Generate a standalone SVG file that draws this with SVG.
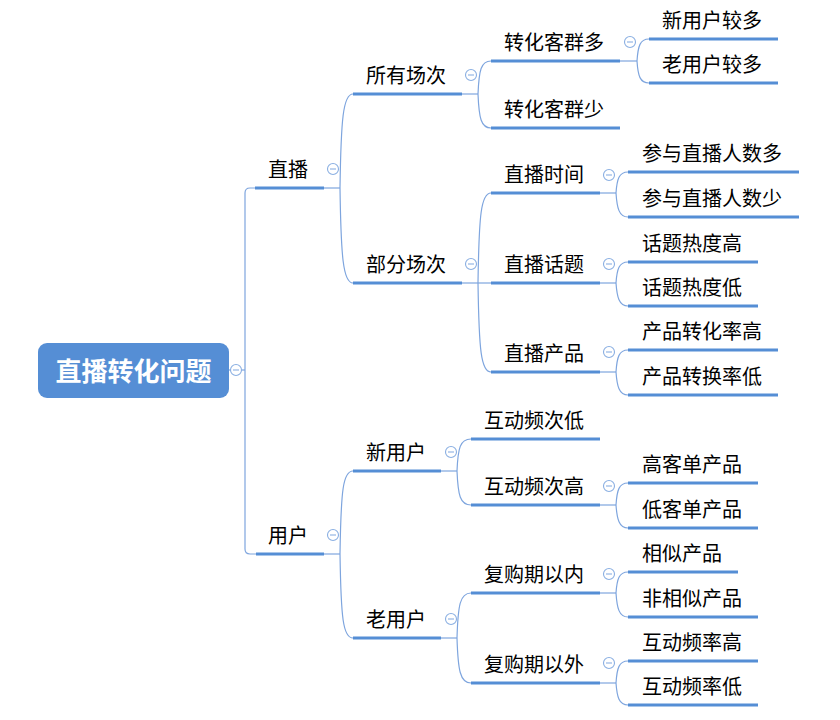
<svg xmlns="http://www.w3.org/2000/svg" width="840" height="720" viewBox="0 0 840 720">
<style>
.bg{fill:#ffffff}
.t{font-family:"Noto Sans CJK SC","Microsoft YaHei",sans-serif;font-size:20px;fill:#000000}
.root-box{fill:#558ED5}
.root-t{font-family:"Noto Sans CJK SC","Microsoft YaHei",sans-serif;font-size:26px;font-weight:bold;fill:#ffffff}
.ul{stroke:#558ED5;stroke-width:3.2;fill:none}
.ln{stroke:#7EA5DE;stroke-width:1.2;fill:none}
.cc{fill:#ffffff;stroke:#8AAFE2;stroke-width:1.1}
.cm{stroke:#8AAFE2;stroke-width:1.1}
</style>
<defs>
<g id="collapse"><circle class="cc" cx="0" cy="0" r="5.5"/><line class="cm" x1="-3" y1="0" x2="3" y2="0"/></g>
</defs>
<rect class="bg" x="0" y="0" width="840" height="720"/>

<g id="connectors">
<path class="ln" d="M229 370 H245"/>
<path class="ln" d="M255 188 H250 Q245 188 245 193 V549 Q245 554 250 554 H256"/>
<path class="ln" d="M324 188 H340"/>
<path class="ln" d="M340 188 C341 120 343 94 353 94"/>
<path class="ln" d="M340 188 C341 256 343 283 353 283"/>
<path class="ln" d="M324 554 H340"/>
<path class="ln" d="M340 554 C341 490 343 471 353 471"/>
<path class="ln" d="M340 554 C341 618 343 638 353 638"/>
<path class="ln" d="M462 94 H478"/>
<path class="ln" d="M478 94 C479 70 481 61 491 61"/>
<path class="ln" d="M478 94 C479 118 481 128 491 128"/>
<path class="ln" d="M462 283 H491"/>
<path class="ln" d="M478 283 C479 215 481 193 491 193"/>
<path class="ln" d="M478 283 C479 350 481 372 491 372"/>
<path class="ln" d="M441 471 H457"/>
<path class="ln" d="M457 471 C458 448 460 439 471 439"/>
<path class="ln" d="M457 471 C458 495 460 505 471 505"/>
<path class="ln" d="M441 638 H457"/>
<path class="ln" d="M457 638 C458 605 460 593 471 593"/>
<path class="ln" d="M457 638 C458 670 460 683 471 683"/>
<path class="ln" d="M620 61 H637"/>
<path class="ln" d="M637 61 C638 46 640 39 649 39"/>
<path class="ln" d="M637 61 C638 76 640 83 649 83"/>
<path class="ln" d="M600 193 H616"/>
<path class="ln" d="M616 193 C617 179 619 172 628 172"/>
<path class="ln" d="M616 193 C617 208 619 217 628 217"/>
<path class="ln" d="M600 283 H616"/>
<path class="ln" d="M616 283 C617 269 619 262 628 262"/>
<path class="ln" d="M616 283 C617 297 619 306 628 306"/>
<path class="ln" d="M600 372 H616"/>
<path class="ln" d="M616 372 C617 357 619 350 628 350"/>
<path class="ln" d="M616 372 C617 386 619 395 628 395"/>
<path class="ln" d="M600 505 H616"/>
<path class="ln" d="M616 505 C617 490 619 483 628 483"/>
<path class="ln" d="M616 505 C617 519 619 528 628 528"/>
<path class="ln" d="M600 593 H616"/>
<path class="ln" d="M616 593 C617 579 619 572 628 572"/>
<path class="ln" d="M616 593 C617 608 619 617 628 617"/>
<path class="ln" d="M600 683 H616"/>
<path class="ln" d="M616 683 C617 668 619 661 628 661"/>
<path class="ln" d="M616 683 C617 697 619 705 628 705"/>
</g>

<g id="root">
<rect class="root-box" x="38" y="343" width="191" height="55" rx="9"/>
<text class="root-t" x="133.5" y="381" text-anchor="middle">直播转化问题</text>
<use href="#collapse" x="236" y="370"/>
</g>

<g id="n-zhibo"><line class="ul" x1="255" y1="188" x2="324" y2="188"/><text class="t" x="268" y="177">直播</text><use href="#collapse" x="333" y="169"/></g>
<g id="n-yonghu"><line class="ul" x1="256" y1="554" x2="324" y2="554"/><text class="t" x="268" y="543">用户</text><use href="#collapse" x="333" y="535"/></g>

<g id="n-suoyou"><line class="ul" x1="353" y1="94" x2="462" y2="94"/><text class="t" x="366" y="83">所有场次</text><use href="#collapse" x="471" y="75"/></g>
<g id="n-bufen"><line class="ul" x1="353" y1="283" x2="462" y2="283"/><text class="t" x="366" y="272">部分场次</text><use href="#collapse" x="471" y="264"/></g>
<g id="n-xinyonghu"><line class="ul" x1="353" y1="471" x2="441" y2="471"/><text class="t" x="366" y="460">新用户</text><use href="#collapse" x="451" y="452"/></g>
<g id="n-laoyonghu"><line class="ul" x1="353" y1="638" x2="441" y2="638"/><text class="t" x="366" y="627">老用户</text><use href="#collapse" x="451" y="619"/></g>

<g id="n-kqd"><line class="ul" x1="491" y1="61" x2="620" y2="61"/><text class="t" x="504" y="50">转化客群多</text><use href="#collapse" x="630" y="42"/></g>
<g id="n-kqs"><line class="ul" x1="491" y1="128" x2="620" y2="128"/><text class="t" x="504" y="117">转化客群少</text></g>
<g id="n-sj"><line class="ul" x1="491" y1="193" x2="600" y2="193"/><text class="t" x="504" y="182">直播时间</text><use href="#collapse" x="609" y="175"/></g>
<g id="n-ht"><line class="ul" x1="491" y1="283" x2="600" y2="283"/><text class="t" x="504" y="272">直播话题</text><use href="#collapse" x="609" y="264"/></g>
<g id="n-cp"><line class="ul" x1="491" y1="372" x2="600" y2="372"/><text class="t" x="504" y="361">直播产品</text><use href="#collapse" x="609" y="352"/></g>
<g id="n-hdd"><line class="ul" x1="471" y1="439" x2="600" y2="439"/><text class="t" x="484" y="428">互动频次低</text></g>
<g id="n-hdg"><line class="ul" x1="471" y1="505" x2="600" y2="505"/><text class="t" x="484" y="494">互动频次高</text><use href="#collapse" x="609" y="486"/></g>
<g id="n-fgn"><line class="ul" x1="471" y1="593" x2="600" y2="593"/><text class="t" x="484" y="582">复购期以内</text><use href="#collapse" x="609" y="574"/></g>
<g id="n-fgw"><line class="ul" x1="471" y1="683" x2="600" y2="683"/><text class="t" x="484" y="672">复购期以外</text><use href="#collapse" x="609" y="663"/></g>

<g id="n-xyhjd"><line class="ul" x1="649" y1="39" x2="778" y2="39"/><text class="t" x="662" y="28">新用户较多</text></g>
<g id="n-lyhjd"><line class="ul" x1="649" y1="83" x2="778" y2="83"/><text class="t" x="662" y="72">老用户较多</text></g>
<g id="n-rsd"><line class="ul" x1="628" y1="172" x2="799" y2="172"/><text class="t" x="642" y="161">参与直播人数多</text></g>
<g id="n-rss"><line class="ul" x1="628" y1="217" x2="799" y2="217"/><text class="t" x="642" y="206">参与直播人数少</text></g>
<g id="n-rdg"><line class="ul" x1="628" y1="262" x2="758" y2="262"/><text class="t" x="642" y="251">话题热度高</text></g>
<g id="n-rdd"><line class="ul" x1="628" y1="306" x2="758" y2="306"/><text class="t" x="642" y="295">话题热度低</text></g>
<g id="n-zhlg"><line class="ul" x1="628" y1="350" x2="778" y2="350"/><text class="t" x="642" y="339">产品转化率高</text></g>
<g id="n-zhld"><line class="ul" x1="628" y1="395" x2="778" y2="395"/><text class="t" x="642" y="384">产品转换率低</text></g>
<g id="n-gkd"><line class="ul" x1="628" y1="483" x2="758" y2="483"/><text class="t" x="642" y="472">高客单产品</text></g>
<g id="n-dkd"><line class="ul" x1="628" y1="528" x2="758" y2="528"/><text class="t" x="642" y="517">低客单产品</text></g>
<g id="n-xs"><line class="ul" x1="628" y1="572" x2="738" y2="572"/><text class="t" x="642" y="561">相似产品</text></g>
<g id="n-fxs"><line class="ul" x1="628" y1="617" x2="758" y2="617"/><text class="t" x="642" y="606">非相似产品</text></g>
<g id="n-plg"><line class="ul" x1="628" y1="661" x2="758" y2="661"/><text class="t" x="642" y="650">互动频率高</text></g>
<g id="n-pld"><line class="ul" x1="628" y1="705" x2="758" y2="705"/><text class="t" x="642" y="694">互动频率低</text></g>
</svg>
